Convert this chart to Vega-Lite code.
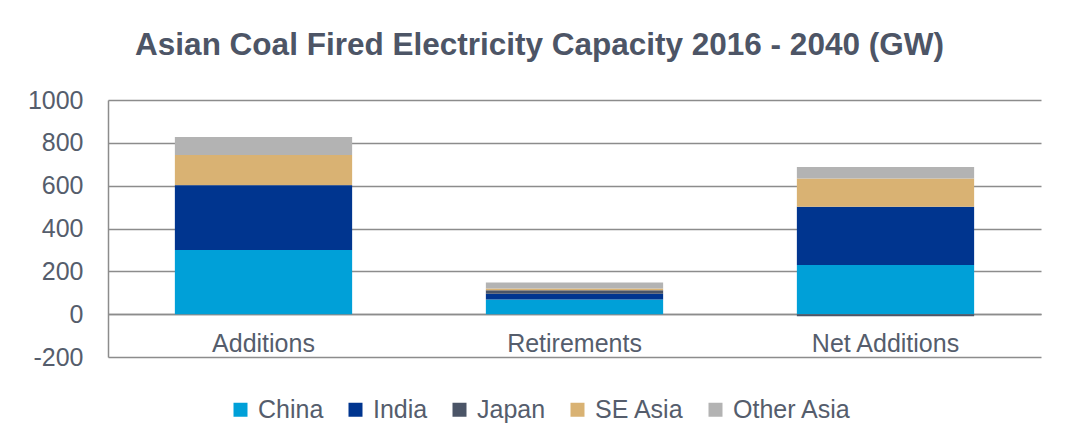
{
  "$schema": "https://vega.github.io/schema/vega-lite/v6.json",
  "autosize": {"type": "none"},
  "width": 933,
  "height": 257,
  "padding": {"left": 108, "top": 100, "right": 24, "bottom": 89},
  "background": "white",
  "title": {
    "text": "Asian Coal Fired Electricity Capacity 2016 - 2040 (GW)",
    "font": "Liberation Sans",
    "fontSize": 31.5,
    "fontWeight": "bold",
    "color": "#4D5566",
    "anchor": "middle",
    "dx": -35,
    "offset": 27
  },
  "data": {
    "values": [
      {"category": "Additions", "region": "China", "gw": 300},
      {"category": "Additions", "region": "India", "gw": 302},
      {"category": "Additions", "region": "Japan", "gw": 1},
      {"category": "Additions", "region": "SE Asia", "gw": 140},
      {"category": "Additions", "region": "Other Asia", "gw": 84},
      {"category": "Retirements", "region": "China", "gw": 68},
      {"category": "Retirements", "region": "India", "gw": 27},
      {"category": "Retirements", "region": "Japan", "gw": 17},
      {"category": "Retirements", "region": "SE Asia", "gw": 8},
      {"category": "Retirements", "region": "Other Asia", "gw": 28},
      {"category": "Net Additions", "region": "China", "gw": 229},
      {"category": "Net Additions", "region": "India", "gw": 272},
      {"category": "Net Additions", "region": "Japan", "gw": -10},
      {"category": "Net Additions", "region": "SE Asia", "gw": 133},
      {"category": "Net Additions", "region": "Other Asia", "gw": 53}
    ]
  },
  "transform": [
    {"calculate": "indexof(['China', 'India', 'Japan', 'SE Asia', 'Other Asia'], datum.region)", "as": "stackOrder"}
  ],
  "mark": {"type": "bar"},
  "encoding": {
    "x": {
      "field": "category",
      "type": "nominal",
      "sort": ["Additions", "Retirements", "Net Additions"],
      "scale": {"paddingInner": 0.43, "paddingOuter": 0.215},
      "axis": {
        "title": null,
        "labelAngle": 0,
        "offset": -43,
        "ticks": false,
        "domainColor": "#8c8c8c",
        "domainWidth": 1.5,
        "labelFont": "Liberation Sans",
        "labelFontSize": 25,
        "labelColor": "#555D6C",
        "labelPadding": 17
      }
    },
    "y": {
      "field": "gw",
      "type": "quantitative",
      "stack": "zero",
      "scale": {"domain": [-200, 1000], "nice": false},
      "axis": {
        "title": null,
        "values": [-200, 0, 200, 400, 600, 800, 1000],
        "labelExpr": "'' + datum.value",
        "ticks": false,
        "domainColor": "#8c8c8c",
        "domainWidth": 1.5,
        "gridColor": "#8c8c8c",
        "gridWidth": 1.5,
        "labelFont": "Liberation Sans",
        "labelFontSize": 25,
        "labelColor": "#555D6C",
        "labelPadding": 25
      }
    },
    "order": {"field": "stackOrder", "type": "quantitative", "sort": "ascending"},
    "color": {
      "field": "region",
      "type": "nominal",
      "scale": {
        "domain": ["China", "India", "Japan", "SE Asia", "Other Asia"],
        "range": ["#00A0D8", "#00358F", "#4B5567", "#D9B273", "#B3B3B3"]
      },
      "legend": {
        "title": null,
        "orient": "none",
        "legendX": 120,
        "legendY": 297,
        "direction": "horizontal",
        "symbolType": "square",
        "symbolSize": 196,
        "symbolStrokeWidth": 0,
        "labelFont": "Liberation Sans",
        "labelFontSize": 25,
        "labelColor": "#555D6C",
        "labelOffset": 5,
        "columnPadding": 19
      }
    }
  },
  "config": {
    "view": {"stroke": null},
    "axis": {"gridDash": []}
  }
}
